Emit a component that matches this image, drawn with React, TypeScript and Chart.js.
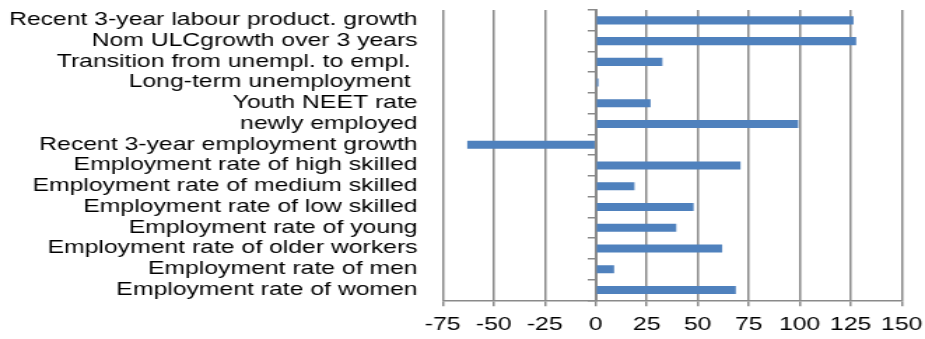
import React, { useEffect, useRef } from "react";
import { Chart, registerables } from "chart.js";

Chart.register(...registerables);

// Indicator names, top to bottom
const indicators: string[] = [
  "Recent 3-year labour product. growth",
  "Nom ULCgrowth over 3 years",
  "Transition from unempl. to empl. ",
  "Long-term unemployment ",
  "Youth NEET rate",
  "newly employed",
  "Recent 3-year employment growth",
  "Employment rate of high skilled",
  "Employment rate of medium skilled",
  "Employment rate of low skilled",
  "Employment rate of young",
  "Employment rate of older workers",
  "Employment rate of men",
  "Employment rate of women",
];

// Score for each indicator
const scores: number[] = [126.4, 127.7, 32.7, 1.3, 26.9, 99.3, -63, 71, 19, 48, 39.5, 62, 9, 68.7];

// Value axis range and step
const axisMin = -75;
const axisMax = 150;
const axisStep = 25;

const FULL_W = 925;
const FULL_H = 339;
const STRETCH = 1.4;
const CANVAS_W = Math.round(FULL_W / STRETCH);

const GRID = "#8a8a8a";
const BAR = "#4F81BD";
const FONT = { family: "'Liberation Sans', Arial, sans-serif", size: 17.7 };

export default function App() {
  const canvasRef = useRef<HTMLCanvasElement | null>(null);

  useEffect(() => {
    const canvas = canvasRef.current;
    if (!canvas) return;
    const chart = new Chart(canvas, {
      type: "bar",
      data: {
        labels: indicators,
        datasets: [
          {
            data: scores,
            backgroundColor: BAR,
            borderWidth: 0,
            yAxisID: "y",
            xAxisID: "x",
            categoryPercentage: 1,
            barPercentage: 0.39,
          },
        ],
      },
      options: {
        indexAxis: "y",
        animation: false,
        responsive: false,
        events: [],
        layout: { padding: { top: 10, right: 16.7, bottom: 0, left: 0 } },
        plugins: { legend: { display: false }, tooltip: { enabled: false } },
        scales: {
          x: {
            type: "linear",
            position: "bottom",
            min: axisMin,
            max: axisMax,
            ticks: { stepSize: axisStep, color: "#000", font: FONT, padding: 8 },
            grid: { color: GRID, lineWidth: 1.5, drawTicks: true, tickLength: 6, tickColor: GRID },
            border: { display: true, color: GRID, width: 1.5 },
            afterFit: (scale: any) => {
              scale.height = 38.7;
              scale.paddingLeft = 0;
              scale.paddingRight = 0;
            },
          },
          y: {
            type: "category",
            position: "left",
            offset: true,
            ticks: { color: "#000", font: FONT, padding: 18, autoSkip: false },
            grid: { display: false, drawTicks: false },
            border: { display: false },
            afterFit: (scale: any) => {
              scale.width = 316.4;
              scale.paddingTop = 0;
              scale.paddingBottom = 0;
            },
          },
          y0: {
            type: "category",
            position: { x: 0 },
            offset: true,
            ticks: { display: false },
            grid: {
              offset: true,
              drawOnChartArea: false,
              drawTicks: true,
              tickLength: 5,
              color: GRID,
              lineWidth: 1.5,
            },
            border: { display: true, color: GRID, width: 2 },
            afterFit: (scale: any) => {
              scale.paddingTop = 0;
              scale.paddingBottom = 0;
            },
          },
        },
      } as any,
    });
    return () => chart.destroy();
  }, []);

  return (
    <div
      style={{
        position: "absolute",
        left: 0,
        top: 0,
        width: FULL_W,
        height: FULL_H,
        overflow: "hidden",
        background: "#fff",
      }}
    >
      <div
        style={{
          width: CANVAS_W,
          height: FULL_H,
          transform: `scaleX(${FULL_W / CANVAS_W})`,
          transformOrigin: "0 0",
        }}
      >
        <canvas ref={canvasRef} width={CANVAS_W} height={FULL_H} />
      </div>
    </div>
  );
}
